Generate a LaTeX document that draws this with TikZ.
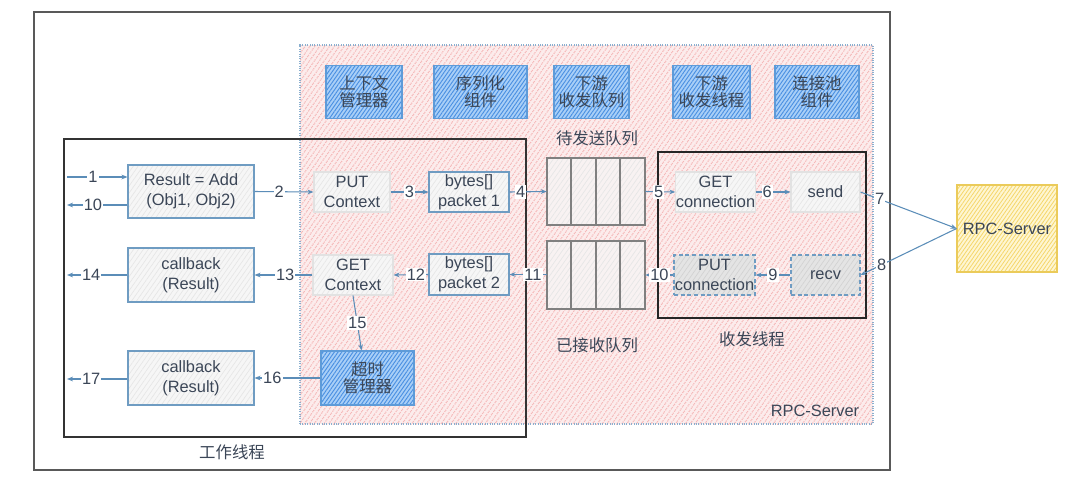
\documentclass[tikz,border=0pt]{standalone}
\usepackage{fontspec}
\setmainfont{Liberation Sans}
\newfontfamily\cjk{Noto Sans CJK SC}
\usetikzlibrary{arrows.meta,patterns.meta,fit}
\definecolor{txt}{HTML}{3B4657}
\definecolor{arrc}{HTML}{5B8DB8}
\definecolor{pinkbg}{HTML}{FCECEC}
\definecolor{pinkln}{HTML}{F5B8B8}
\definecolor{bluebg}{HTML}{A9CFF7}
\definecolor{blueln}{HTML}{4A90E2}
\definecolor{blued}{HTML}{5E9BD8}
\definecolor{yelbg}{HTML}{FEF6D2}
\definecolor{yelln}{HTML}{F5D66A}
\definecolor{yeld}{HTML}{EBCB5A}
\definecolor{greybg}{HTML}{F6F6F6}
\definecolor{greyln}{HTML}{E6E6E6}
\definecolor{greyd}{HTML}{E2E2E2}
\definecolor{darkgbg}{HTML}{E4E4E4}
\definecolor{darkgln}{HTML}{D2D2D2}
\definecolor{stb}{HTML}{6F9CC2}
\definecolor{dotc}{HTML}{8AAFCF}
\definecolor{cellc}{HTML}{808080}
\begin{document}
\begin{tikzpicture}[x=0.75pt,y=-0.75pt,
  every node/.style={font=\fontsize{12.3}{15}\selectfont, text=txt, align=center, inner sep=0pt},
  cjkfont/.style={font=\cjk\fontsize{12.3}{13}\selectfont},
  wh/.style 2 args={minimum width=#1*0.75pt, minimum height=#2*0.75pt},
  arr/.style={draw=arrc, line width=0.8pt, -{Stealth[length=4.5pt,width=3.5pt]}},
  lbl/.style={fill=white, inner sep=0.8pt},
  bluebox/.style={draw=blued, line width=0.8pt, preaction={fill=bluebg},
     pattern={Lines[angle=55,distance=2.3pt,line width=0.7pt]}, pattern color=blueln, cjkfont},
  pinkregion/.style={draw=dotc, densely dotted, line width=0.8pt, preaction={fill=pinkbg},
     pattern={Lines[angle=55,distance=3pt,line width=0.8pt]}, pattern color=pinkln},
  bluebord/.style={draw=stb, line width=0.8pt, preaction={fill=greybg},
     pattern={Lines[angle=55,distance=3pt,line width=0.5pt]}, pattern color=greyln},
  greybox/.style={draw=greyd, line width=0.8pt, preaction={fill=greybg},
     pattern={Lines[angle=55,distance=3pt,line width=0.5pt]}, pattern color=greyln},
  dashbox/.style={draw=stb, densely dashed, line width=0.8pt, preaction={fill=darkgbg},
     pattern={Lines[angle=55,distance=3pt,line width=0.5pt]}, pattern color=darkgln},
  cell/.style={draw=cellc, line width=0.8pt, preaction={fill=greybg!60!pinkbg},
     pattern={Lines[angle=55,distance=3pt,line width=0.5pt]}, pattern color=greyln},
  yelbox/.style={draw=yeld, line width=0.8pt, preaction={fill=yelbg},
     pattern={Lines[angle=55,distance=2.3pt,line width=0.6pt]}, pattern color=yelln},
  frame/.style={draw=#1, line width=0.9pt}
]
\useasboundingbox (0,0) rectangle (1080,482);
% outer frame
\node[frame=black!65, fill=white, fit={(34,12) (890,470)}] (outer) {};
% RPC-Server region
\node[pinkregion, fit={(300,45) (873,424)}] (srv) {};
\node at (815,411) (srvlbl) {RPC-Server};
% work thread frame
\node[frame=black!80, fit={(64,139) (526,437)}] (work) {};
\node[cjkfont] at (232,452) (worklbl) {工作线程};
% transceiver thread frame
\node[frame=black!85, fit={(658,152) (866,318)}] (trx) {};
\node[cjkfont] at (752,339) (trxlbl) {收发线程};
% top components
\node[bluebox, wh={76}{53}] at (364,92) (c1) {上下文\\管理器};
\node[bluebox, wh={93}{53}] at (480.5,92) (c2) {序列化\\组件};
\node[bluebox, wh={75}{53}] at (591.5,92) (c3) {下游\\收发队列};
\node[bluebox, wh={77}{53}] at (711.5,92) (c4) {下游\\收发线程};
\node[bluebox, wh={84}{53}] at (817,92) (c5) {连接池\\组件};
% queues
\node[cjkfont] at (597,138) (sqlbl) {待发送队列};
\node[cjkfont] at (597,345) (rqlbl) {已接收队列};
\foreach \a/\b in {547/571,571/596,596/620,620/645}{
  \node[cell, fit={(\a,158) (\b,225)}] {};
  \node[cell, fit={(\a,241) (\b,309)}] {};
}
\node[fit={(547,158) (645,225)}] (sq) {};
\node[fit={(547,241) (645,309)}] (rq) {};
% work thread nodes
\node[bluebord, wh={126}{53}] at (191,191.5) (res) {Result = Add\\(Obj1, Obj2)};
\node[bluebord, wh={126}{54}] at (191,275) (cb1) {callback\\(Result)};
\node[bluebord, wh={126}{54}] at (191,378) (cb2) {callback\\(Result)};
\node[greybox, wh={76}{40}] at (352,192) (putctx) {PUT\\Context};
\node[greybox, wh={80}{40}] at (353,275) (getctx) {GET\\Context};
\node[bluebord, wh={80}{40}] at (469,192) (pk1) {bytes[]\\packet 1};
\node[bluebord, wh={80}{41}] at (469,274.5) (pk2) {bytes[]\\packet 2};
\node[bluebox, wh={93}{54}] at (367.5,378) (tmo) {超时\\管理器};
% transceiver nodes
\node[greybox, wh={79}{40}] at (715.5,192) (getconn) {GET\\connection};
\node[greybox, wh={69}{40}] at (825.5,192) (send) {send};
\node[dashbox, wh={81}{40}] at (714.5,275) (putconn) {PUT\\connection};
\node[dashbox, wh={69}{40}] at (825.5,275) (recv) {recv};
% remote server
\node[yelbox, wh={100}{87}] at (1007,228.5) (rpc) {RPC-Server};
% free ends
\coordinate (i1) at (67,177);
\coordinate (o10) at (67,205);
\coordinate (o14) at (67,275);
\coordinate (o17) at (67,379);
% connectors
\draw[arr] (i1) -- node[lbl, pos=0.43] {1} (res.west |- i1);
\draw[arr] (res.west |- o10) -- node[lbl, pos=0.57] {10} (o10);
\draw[arr] (res.east) -- node[lbl, pos=0.42] {2} (putctx.west);
\draw[arr] (putctx.east) -- node[lbl] {3} (pk1.east -| pk1.west);
\draw[arr] (pk1.east) -- node[lbl, pos=0.3] {4} (sq.west);
\draw[arr] (sq.east) -- node[lbl, pos=0.45] {5} (getconn.west);
\draw[arr] (getconn.east) -- node[lbl, pos=0.33] {6} (send.west);
\draw[arr] (send.east) -- node[lbl, pos=0.2] {7} (rpc.west);
\draw[arr] (rpc.west) -- node[lbl, pos=0.78] {8} (recv.east);
\draw[arr] (recv.west) -- node[lbl] {9} (putconn.west -| putconn.east);
\draw[arr] (putconn.west) -- node[lbl] {10} (putconn.west -| rq.east);
\draw[arr] (rq.west |- pk2.east) -- node[lbl, pos=0.37] {11} (pk2.east);
\draw[arr] (pk2.west) -- node[lbl, pos=0.36] {12} (getctx.east);
\draw[arr] (getctx.west) -- node[lbl, pos=0.47] {13} (cb1.east |- getctx.west);
\draw[arr] (cb1.west |- o14) -- node[lbl, pos=0.6] {14} (o14);
\draw[arr] (getctx.south) -- node[lbl] {15} ([xshift=-4.5pt]tmo.north);
\draw[arr] (tmo.west) -- node[lbl, pos=0.73] {16} (cb2.east |- tmo.west);
\draw[arr] (cb2.west |- o17) -- node[lbl, pos=0.6] {17} (o17);
\end{tikzpicture}
\end{document}
